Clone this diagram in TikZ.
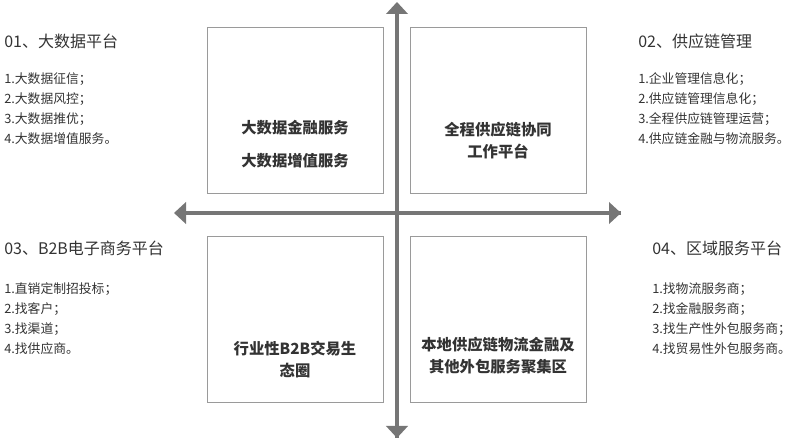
\documentclass[tikz,border=0pt]{standalone}
\usepackage{fontspec}
\setmainfont{Noto Sans CJK SC}
\usetikzlibrary{arrows.meta,positioning}
\definecolor{axisgray}{HTML}{767676}
\definecolor{boxgray}{HTML}{9A9A9A}
\definecolor{txtgray}{HTML}{333333}
\tikzset{
  quad/.style={draw=boxgray,line width=0.6pt,minimum width=132pt,minimum height=124pt,inner sep=0pt},
  qtext/.style={font=\bfseries\fontsize{11.5}{16.5}\selectfont,text=txtgray,align=center,inner sep=0pt},
  axis/.style={draw=axisgray,line width=3pt,-{Triangle[width=16pt,length=9pt]}},
  title/.style={anchor=west,font=\fontsize{12}{14}\selectfont,text=txtgray,inner sep=0pt},
  items/.style={anchor=north west,font=\fontsize{9.6}{15}\selectfont,text=txtgray,align=left,inner sep=0pt}
}
\begin{document}
\begin{tikzpicture}[x=0.75pt,y=-0.75pt]
\useasboundingbox (0,0) rectangle (808,448);
\node[quad] (q1) at (295,110.5) {};
\node[quad] (q2) at (498,110.5) {};
\node[quad] (q3) at (295,319.5) {};
\node[quad] (q4) at (498,319.5) {};
\node[qtext] (s1) at (295,144) {大数据金融服务\\[8pt]大数据增值服务};
\node[qtext] (s2) at (498,141) {全程供应链协同\\工作平台};
\node[qtext] (s3) at (295,360) {行业性B2B交易生\\态圈};
\node[qtext] (s4) at (498,356) {本地供应链物流金融及\\其他外包服务聚集区};
\coordinate (top) at (397,2);
\coordinate (bot) at (397,438);
\coordinate (lft) at (174,213);
\coordinate (rgt) at (621,213);
\draw[axis] (bot) -- (top);
\draw[axis] (top|-q3.south) -- (bot);
\draw[axis] (rgt) -- (lft);
\draw[axis] (lft-|q2.east) -- (rgt);
\node[title] (t1) at (4,41) {01、大数据平台};
\node[items] (l1) at (4,72) {1.大数据征信；\\2.大数据风控；\\3.大数据推优；\\4.大数据增值服务。};
\node[title] (t2) at (638,41) {02、供应链管理};
\node[items] (l2) at (638,72) {1.企业管理信息化；\\2.供应链管理信息化；\\3.全程供应链管理运营；\\4.供应链金融与物流服务。};
\node[title] (t3) at (4,248) {03、B2B电子商务平台};
\node[items] (l3) at (4,282) {1.直销定制招投标；\\2.找客户；\\3.找渠道；\\4.找供应商。};
\node[title] (t4) at (652,248) {04、区域服务平台};
\node[items] (l4) at (652,282) {1.找物流服务商；\\2.找金融服务商；\\3.找生产性外包服务商；\\4.找贸易性外包服务商。};
\end{tikzpicture}
\end{document}
